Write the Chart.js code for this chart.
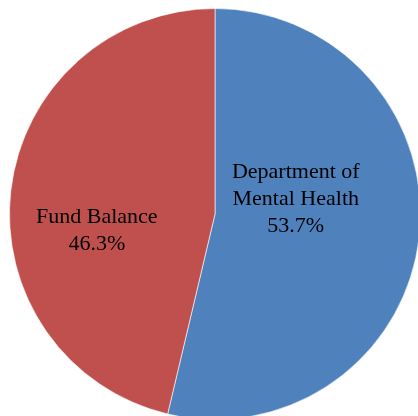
<!DOCTYPE html>
<html>
<head>
<meta charset="utf-8">
<script src="https://cdn.jsdelivr.net/npm/chart.js@4/dist/chart.umd.min.js"></script>
<style>
	html, body { margin: 0; padding: 0; background: #fff; overflow: hidden; }
	#wrap { position: absolute; left: 0; top: 0; width: 430px; height: 420px; }
</style>
</head>
<body>
<div id="wrap"><canvas id="chart"></canvas></div>
<script>
const categories = ['Department of Mental Health', 'Fund Balance'];
const labelLines = [['Department of', 'Mental Health'], ['Fund Balance']];
const shares = [53.7, 46.3];
const colors = ['#4F81BD', '#C0504D'];

// label placement relative to the pie centre, as a fraction of the radius
const labelOffsets = [
	{ fx: 0.393, fy: -0.045 },
	{ fx: -0.575, fy: 0.11 },
];

const sliceLabels = {
	id: 'sliceLabels',
	afterDatasetsDraw(chart) {
		const { ctx } = chart;
		const arcs = chart.getDatasetMeta(0).data;
		ctx.save();
		ctx.font = '22px "Liberation Serif", "Times New Roman", serif';
		ctx.fillStyle = '#000';
		ctx.textAlign = 'center';
		ctx.textBaseline = 'alphabetic';
		arcs.forEach((arc, i) => {
			const { x, y, outerRadius } = arc.getProps(['x', 'y', 'outerRadius'], true);
			const lines = [...labelLines[i], shares[i].toFixed(1) + '%'];
			const cx = x + labelOffsets[i].fx * outerRadius;
			const cy = y + labelOffsets[i].fy * outerRadius;
			const lh = 27;
			const start = cy - ((lines.length - 1) * lh) / 2;
			lines.forEach((t, j) => ctx.fillText(t, cx, start + j * lh));
		});
		ctx.restore();
	},
};

new Chart(document.getElementById('chart'), {
	type: 'pie',
	data: {
		labels: categories,
		datasets: [
			{
				data: shares,
				backgroundColor: colors,
				borderColor: 'rgba(255,255,255,0.6)',
				borderWidth: 1,
			},
		],
	},
	options: {
		responsive: true,
		maintainAspectRatio: false,
		animation: false,
		layout: { padding: { top: 8, left: 9, right: 9, bottom: 0 } },
		plugins: {
			legend: { display: false },
			tooltip: { enabled: false },
		},
	},
	plugins: [sliceLabels],
});
</script>
</body>
</html>
